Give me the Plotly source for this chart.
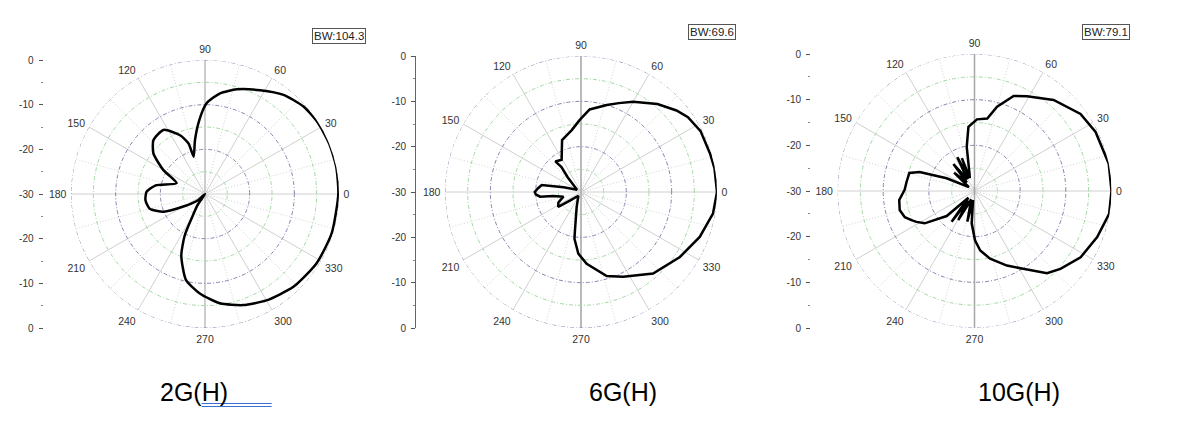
import plotly.graph_objects as go

W, H = 1181, 424
OFF = 8  # the page body adds an 8px margin, positions below are measured on the picture

# radiation patterns: angle (deg) / level (dB)
ANG_2G = [0, 11.7, 22, 32, 41.6, 51.6, 62, 73, 81.5, 89, 94.4, 100.5, 107, 108, 113, 123,
          133.7, 141.8, 150, 159, 170, 178, 186, 195, 203, 210, 222, 230, 236, 241, 244,
          249, 257.5, 267, 277.8, 289, 300, 313.6, 328.2, 342.7, 360]
DB_2G = [-0.15, 0, 0, -0.1, -0.5, -1.7, -3.7, -5.5, -7.2, -9.7, -13.4, -17.7, -21.3, -18.1,
         -15.7, -12.9, -13.3, -15.3, -19.2, -23.2, -18.8, -16.9, -16.6, -17.2, -19.9, -24.4,
         -28, -30, -27, -24, -19.6, -15.2, -10.3, -7.7, -5.3, -3.7, -2.5, -1.3, -0.6, -0.3,
         -0.15]

ANG_6G = [0, 10, 16.5, 27, 35, 40.5, 49, 60, 67, 73.5, 84, 91, 98.5, 110, 121, 130, 128,
          132, 150, 165, 170, 175, 180, 183, 186.5, 188, 195, 205, 213, 218, 235, 253.7,
          261, 262, 267.5, 274.5, 287, 296.5, 311.5, 326.7, 339.3, 350.7, 360]
DB_6G = [0, -0.1, -0.3, -0.4, -1.2, -2.3, -4.3, -7, -8.7, -10, -11.7, -14.1, -16.2, -17.8,
         -21.7, -21.2, -23, -25.6, -29, -26, -21.2, -20.5, -19.8, -20, -20.9, -23.8, -26,
         -24.5, -24, -27, -29, -26.6, -21.5, -19.6, -16.4, -14.1, -10.6, -9.1, -6, -3.9,
         -2, -0.5, 0]

ANG_10G = [0, 11.5, 26, 36, 49, 61, 67.6, 75, 80, 88, 95.4, 98, 100, 106, 110, 111, 113,
           117, 121, 128, 132, 138, 145, 155.5, 161, 164.5, 172, 179, 186.8, 194.3, 200.6,
           204.8, 208, 213, 222, 228, 233.4, 237, 240.8, 249, 256.8, 261, 265, 270.6,
           275.5, 283, 293.5, 302, 311.4, 317.8, 328, 339.4, 350.4, 360]
DB_10G = [0, 0, -0.5, -1.3, -3.6, -6.3, -7.5, -10.9, -13.9, -14.3, -15.9, -18.7, -20.2,
          -26, -27, -22.3, -27, -21.7, -27, -22.5, -27.5, -24, -28.5, -23.3, -17.3, -15.2,
          -15, -14.7, -13.4, -13.1, -13.7, -14.8, -15.6, -17, -21.8, -28, -21.6, -27.5,
          -22.7, -28, -23.1, -28, -22.9, -19.2, -16.9, -14.8, -12.2, -9.9, -6, -4.6, -2.6,
          -1.3, -0.1, 0]

NAMES = ["2G(H)", "6G(H)", "10G(H)"]
BW = ["BW:104.3", "BW:69.6", "BW:79.1"]

ANG_TICKS = list(range(0, 360, 30))
MINOR_SPOKES = list(range(15, 360, 30))
MAJOR_RINGS = [-20, -10, 0]
MINOR_RINGS = [-25, -15, -5]

# left scale: distance from centre in dB, labelled as level
SCALE_POS = [-30, -20, -10, 0, 10, 20, 30]
SCALE_TXT = ["0", "-10", "-20", "-30", "-20", "-10", "0"]
SCALE_MINOR = [-25, -15, -5, 5, 15, 25]

# pixel layout of each panel: centre x, centre y, radius, left scale x, bw box, caption x
GEOM = [
    dict(cx=205, cy=194, r=134, ax=43.5, line=False, bx=338.5, by=35.5, tx=194,
         shape="spline", vcol="#c4c4c4"),
    dict(cx=581, cy=192, r=136, ax=416, line=True, bx=712, by=32.5, tx=623,
         shape="linear", vcol="#ababab"),
    dict(cx=974.5, cy=191, r=137, ax=811, line=False, bx=1105.5, by=32, tx=1018.5,
         shape="linear", vcol="#a6a6a6"),
]

PATTERNS = [(ANG_2G, DB_2G), (ANG_6G, DB_6G), (ANG_10G, DB_10G)]

FONT = "Liberation Sans, Arial"


def px(x):
    return (x - OFF) / W


def py(y):
    return 1 - (y - OFF) / H


fig = go.Figure()
ring_theta = list(range(0, 361, 2))

for i, (g, (ang, db)) in enumerate(zip(GEOM, PATTERNS)):
    pid = "polar" if i == 0 else f"polar{i + 1}"
    for a in MINOR_SPOKES:
        fig.add_trace(go.Scatterpolar(r=[-30, 0], theta=[a, a], mode="lines", subplot=pid,
                                      line=dict(color="#d2d2d2", width=1, dash="1px,2px"),
                                      hoverinfo="skip", showlegend=False))
    # the vertical spoke is drawn a bit darker in the original
    fig.add_trace(go.Scatterpolar(r=[0, -30, 0], theta=[90, 90, 270], mode="lines",
                                  subplot=pid, line=dict(color=g["vcol"], width=1.5),
                                  hoverinfo="skip", showlegend=False))
    for lv in MINOR_RINGS:
        fig.add_trace(go.Scatterpolar(r=[lv] * len(ring_theta), theta=ring_theta, mode="lines",
                                      subplot=pid,
                                      line=dict(color="#a4d8a4", width=1, dash="4px,2px,1px,2px"),
                                      hoverinfo="skip", showlegend=False))
    for lv in MAJOR_RINGS:
        fig.add_trace(go.Scatterpolar(r=[lv] * len(ring_theta), theta=ring_theta, mode="lines",
                                      subplot=pid,
                                      line=dict(color="#8585b0", width=1, dash="4px,2px,1px,2px"),
                                      hoverinfo="skip", showlegend=False))
    fig.add_trace(go.Scatterpolar(r=db, theta=ang, mode="lines", subplot=pid,
                                  line=dict(color="black", width=2.5, shape=g["shape"],
                                            smoothing=0.6),
                                  showlegend=False))

    x0, x1 = px(g["cx"] - g["r"]), px(g["cx"] + g["r"])
    y0, y1 = py(g["cy"] + g["r"]), py(g["cy"] - g["r"])
    fig.update_layout(**{pid: dict(
        domain=dict(x=[x0, x1], y=[y0, y1]),
        bgcolor="white",
        radialaxis=dict(range=[-30, 0], showgrid=False, showticklabels=False, ticks="",
                        showline=False),
        angularaxis=dict(tickvals=ANG_TICKS, ticks="outside", ticklen=2,
                         tickcolor="rgba(0,0,0,0)", showline=False, rotation=0,
                         direction="counterclockwise", gridcolor="#d0d0d0", gridwidth=1,
                         tickfont=dict(size=10.5, color="#333333", family=FONT)),
    )})

    # left vertical scale
    xa = "x" if i == 0 else f"x{i + 1}"
    ya = "y" if i == 0 else f"y{i + 1}"
    xk = "xaxis" if i == 0 else f"xaxis{i + 1}"
    yk = "yaxis" if i == 0 else f"yaxis{i + 1}"
    fig.add_trace(go.Scatter(x=[0] * len(SCALE_POS), y=SCALE_POS, xaxis=xa, yaxis=ya,
                             mode="markers", marker=dict(opacity=0), hoverinfo="skip",
                             showlegend=False))
    fig.update_layout(**{
        xk: dict(domain=[px(g["ax"]), px(g["ax"] + 1)], visible=False, range=[0, 1],
                 anchor=ya, automargin=False),
        yk: dict(domain=[y0, y1], range=[-30, 30], anchor=xa, side="left",
                 tickvals=SCALE_POS, ticktext=SCALE_TXT, ticks="outside", ticklen=4,
                 tickcolor="#555555", showgrid=False, zeroline=False,
                 showline=g["line"], linecolor="#666666", linewidth=1,
                 ticklabelstandoff=3, automargin=False,
                 tickfont=dict(size=10, color="#333333", family=FONT),
                 minor=dict(tickvals=SCALE_MINOR, ticks="outside", ticklen=2,
                            tickcolor="#888888")),
    })

    fig.add_annotation(x=px(g["bx"]), y=py(g["by"]), xref="paper", yref="paper",
                       xanchor="center", yanchor="middle",
                       text=BW[i], showarrow=False, bgcolor="white", bordercolor="#555555",
                       borderwidth=1, borderpad=1,
                       font=dict(size=11.5, color="#222222", family=FONT))
    fig.add_annotation(x=px(g["tx"]), y=py(392), xref="paper", yref="paper",
                       xanchor="center", yanchor="middle",
                       text=NAMES[i], showarrow=False,
                       font=dict(size=25, color="black", family=FONT))

# double underline under the first caption
for yy in (403.5, 406.5):
    fig.add_shape(type="line", xref="paper", yref="paper", x0=px(201.7), x1=px(271.7),
                  y0=py(yy), y1=py(yy), line=dict(color="#3a6fd8", width=1))

fig.update_layout(width=W, height=H,
                  margin=dict(l=0, r=0, t=0, b=0, autoexpand=False),
                  paper_bgcolor="white", plot_bgcolor="white", showlegend=False)

fig.write_html("out.html")
